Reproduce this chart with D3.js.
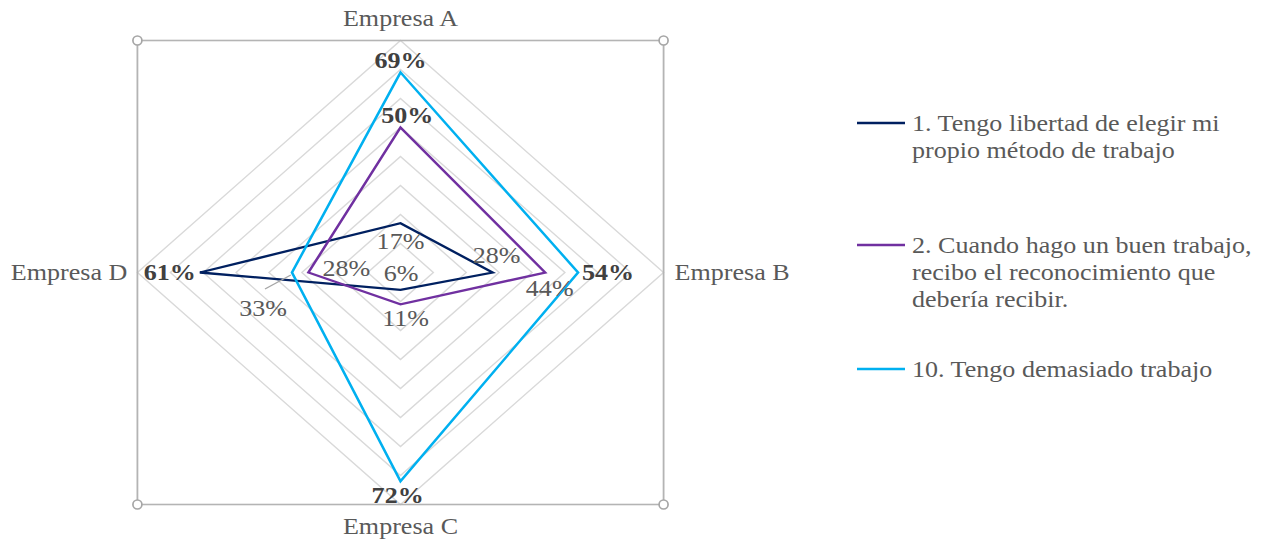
<!DOCTYPE html>
<html>
<head>
<meta charset="utf-8">
<script src="https://cdn.jsdelivr.net/npm/d3@7"></script>
<style>
  html, body { margin: 0; padding: 0; background: #ffffff; }
  svg { display: block; }
  text { font-family: "Liberation Serif", "Times New Roman", serif; }
</style>
</head>
<body>
<svg id="chart"></svg>
<script>
// Radar chart: three survey statements compared across four companies.
const categories = ["Empresa A", "Empresa B", "Empresa C", "Empresa D"];
const seriesNames = [
  ["1. Tengo libertad de elegir mi", "propio método de trabajo"],
  ["2. Cuando hago un buen trabajo,", "recibo el reconocimiento que", "debería recibir."],
  ["10. Tengo demasiado trabajo"]
];
const serie1 = [0.17, 0.28, 0.06, 0.61];
const serie2 = [0.50, 0.44, 0.11, 0.28];
const serie10 = [0.69, 0.54, 0.72, 0.33];
const ringLevels = [0.1, 0.2, 0.3, 0.4, 0.5, 0.6, 0.7, 0.8];
const seriesColors = ["#002060", "#7030A0", "#00B0F0"];

// Which labels are printed in bold (the highest value per company)
const boldLabels = [
  [false, false, false, true],
  [true, false, false, false],
  [true, true, true, false]
];
// Label offsets (dx, dy, anchor) relative to each point
const labelOffsets = [
  [[0, 26, "middle"], [3.5, -9.5, "middle"], [0.5, -8.5, "middle"], [-3.5, 7.5, "end"]],
  [[6, -4.5, "middle"], [4, 23.5, "middle"], [4.5, 21.5, "middle"], [33.5, 3.5, "middle"]],
  [[0, -4, "middle"], [3.5, 7.5, "start"], [-2.5, 22, "middle"], [-25.5, 43.5, "middle"]]
];

const W = 1264, H = 543, K = 1.134;          // horizontal stretch of the drawing
const IW = W / K;
const svg = d3.select("#chart")
  .attr("width", W).attr("height", H)
  .attr("viewBox", `0 0 ${IW} ${H}`)
  .attr("preserveAspectRatio", "none");

const cx = 400.5 / K, cy = 272.5;
const R = 232;
const r = d3.scaleLinear().domain([0, 0.8]).range([0, R]);
const angle = d3.scaleLinear().domain([0, categories.length]).range([0, 2 * Math.PI]);

const g = svg.append("g").attr("transform", `translate(${cx},${cy})`);

// Grid rings
const ringLine = d3.lineRadial()
  .angle((d, i) => angle(i))
  .radius(d => r(d))
  .curve(d3.curveLinearClosed);
g.append("g").selectAll("path")
  .data(ringLevels)
  .join("path")
  .attr("d", lv => ringLine(categories.map(() => lv)))
  .attr("fill", "none")
  .attr("stroke", "#d9d9d9")
  .attr("stroke-width", 1.3);

// Plot-area frame with corner handles
const frame = svg.append("g");
frame.append("rect")
  .attr("x", cx - R).attr("y", cy - R)
  .attr("width", 2 * R).attr("height", 2 * R)
  .attr("fill", "none").attr("stroke", "#b4b4b4").attr("stroke-width", 1.6);
[[cx - R, cy - R], [cx + R, cy - R], [cx - R, cy + R], [cx + R, cy + R]].forEach(p => {
  frame.append("ellipse")
    .attr("cx", p[0]).attr("cy", p[1])
    .attr("rx", 4.5 / K).attr("ry", 4.5)
    .attr("fill", "#ffffff").attr("stroke", "#a6a6a6").attr("stroke-width", 1.5);
});

// Category labels
const catPos = [
  { x: cx, y: 26, a: "middle" },
  { x: cx + R + 11 / K, y: 280, a: "start" },
  { x: cx, y: 534, a: "middle" },
  { x: cx - R - 10 / K, y: 280, a: "end" }
];
svg.append("g").selectAll("text")
  .data(categories)
  .join("text")
  .attr("x", (d, i) => catPos[i].x)
  .attr("y", (d, i) => catPos[i].y)
  .attr("text-anchor", (d, i) => catPos[i].a)
  .attr("font-size", 23)
  .attr("fill", "#595959")
  .text(d => d);

// Series polygons
const allSeries = [serie1, serie2, serie10];
const seriesLine = d3.lineRadial()
  .angle((d, i) => angle(i))
  .radius(d => r(d))
  .curve(d3.curveLinearClosed);
g.append("g").selectAll("path")
  .data(allSeries)
  .join("path")
  .attr("d", d => seriesLine(d))
  .attr("fill", "none")
  .attr("stroke", (d, i) => seriesColors[i])
  .attr("stroke-width", 2.3)
  .attr("stroke-linejoin", "miter");

// Point position helper (same geometry as lineRadial)
function pt(v, i) {
  const a = angle(i);
  return [Math.sin(a) * r(v), -Math.cos(a) * r(v)];
}

// Leader line for the 33% label
const p33 = pt(serie10[3], 3);
g.append("line")
  .attr("x1", p33[0] - 23.8).attr("y1", p33[1] + 16.5)
  .attr("x2", p33[0] - 1).attr("y2", p33[1] + 2.5)
  .attr("stroke", "#a6a6a6").attr("stroke-width", 1.2);

// Data labels
const labelG = g.append("g");
allSeries.forEach((vals, s) => {
  vals.forEach((v, i) => {
    const p = pt(v, i);
    const o = labelOffsets[s][i];
    const bold = boldLabels[s][i];
    labelG.append("text")
      .attr("x", p[0] + o[0])
      .attr("y", p[1] + o[1])
      .attr("text-anchor", o[2])
      .attr("font-size", 23)
      .attr("font-weight", bold ? "bold" : "normal")
      .attr("fill", bold ? "#404040" : "#595959")
      .text(Math.round(v * 100) + "%");
  });
});

// Legend
const legendX1 = 857 / K, legendX2 = 905 / K, legendTx = 912 / K;
const legendBase = [131, 253, 377];
const lineGap = 27;
const legend = svg.append("g");
seriesNames.forEach((lines, s) => {
  legend.append("line")
    .attr("x1", legendX1).attr("x2", legendX2)
    .attr("y1", legendBase[s] - 8).attr("y2", legendBase[s] - 8)
    .attr("stroke", seriesColors[s]).attr("stroke-width", 2.3);
  const t = legend.append("text")
    .attr("x", legendTx).attr("y", legendBase[s])
    .attr("font-size", 23).attr("fill", "#595959");
  lines.forEach((ln, j) => {
    t.append("tspan").attr("x", legendTx).attr("y", legendBase[s] + j * lineGap).text(ln);
  });
});
</script>
</body>
</html>
